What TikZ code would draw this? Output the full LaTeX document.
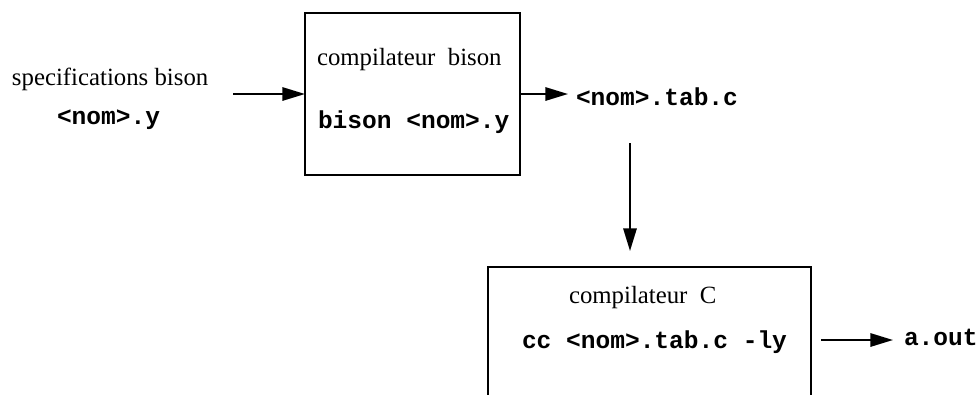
\documentclass[tikz,border=0pt]{standalone}
\usepackage{fontspec}
\setmainfont{Liberation Serif}
\setmonofont{Liberation Mono}
\usetikzlibrary{arrows.meta}
\begin{document}
\begin{tikzpicture}[x=0.75pt,y=-0.75pt,
  every node/.style={inner sep=0pt,outer sep=0pt},
  box/.style={draw,line width=1.5pt,rectangle},
  lbl/.style={anchor=base west,font=\fontsize{18.6}{22}\selectfont},
  code/.style={anchor=base west,font=\fontsize{18.4}{22}\selectfont\ttfamily\bfseries},
  arr/.style={line width=1.5pt,-{Triangle[length=17pt,width=10pt]}}]
  \clip (0,0) rectangle (979,394);
  % input specification
  \node[lbl] (spec) at (12,85) {specifications bison};
  \node[code] (ynom) at (57,124) {<nom>.y};
  % bison compiler box (215 x 162 units)
  \node[box,minimum width=161.25pt,minimum height=121.5pt] (bison) at (412.5,94) {};
  \node[lbl] (bisontitle) at (317,65) {compilateur\ \ bison};
  \node[code] (bisoncmd) at (318,128) {bison <nom>.y};
  % generated parser
  \node[code] (tabc) at (576,105) {<nom>.tab.c};
  % C compiler box, open at the bottom (323 x 200 units)
  \node[box,minimum width=242.25pt,minimum height=150pt] (cc) at (649.5,367) {};
  \node[lbl] (cctitle) at (569,303) {compilateur\ \ C};
  \node[code] (cccmd) at (522,348) {cc <nom>.tab.c -ly};
  \node[code] (aout) at (904,345) {a.out};
  % connector end points
  \coordinate (inarrow) at (233,94);
  \coordinate (tabarrow) at (568,94);
  \coordinate (downtop) at (630,143);
  \coordinate (downend) at (630,251);
  \coordinate (outstart) at (821,340);
  \coordinate (outend) at (893,340);
  \draw[arr] (inarrow) -- (bison.west);
  \draw[arr] (bison.east) -- (tabarrow);
  \draw[arr] (downtop) -- (downend);
  \draw[arr] (outstart) -- (outend);
\end{tikzpicture}
\end{document}
